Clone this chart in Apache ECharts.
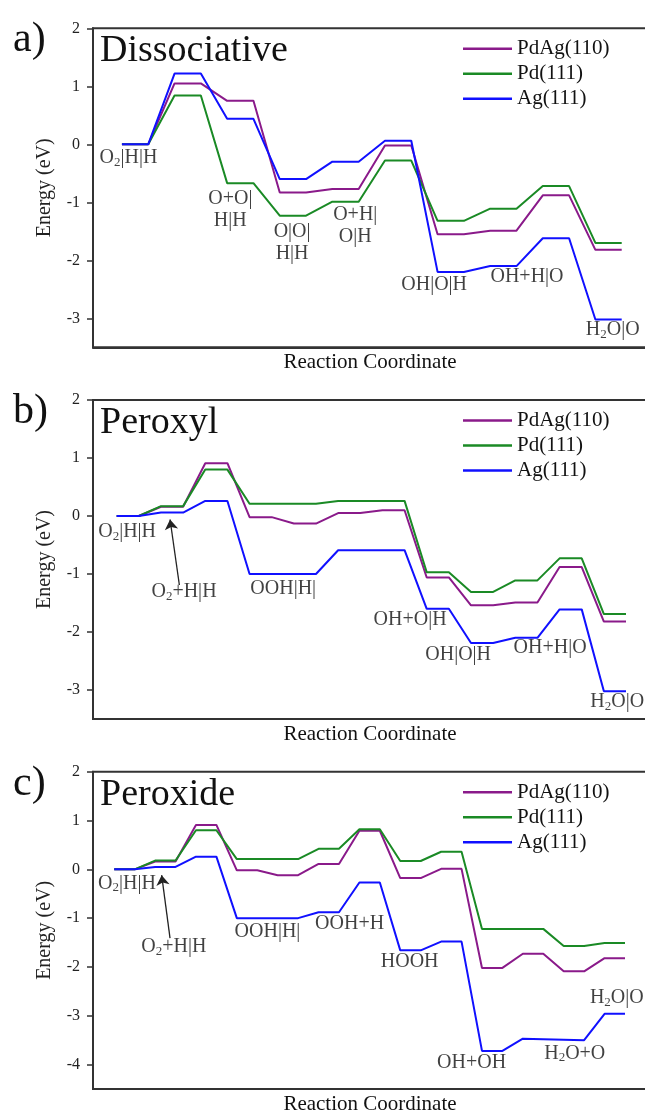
<!DOCTYPE html>
<html>
<head>
<meta charset="utf-8">
<script src="https://cdn.jsdelivr.net/npm/echarts@6/dist/echarts.min.js"></script>
<style>
  html, body { margin: 0; padding: 0; background: #fff; }
  #main { width: 645px; height: 1110px; }
</style>
</head>
<body>
<div id="main"></div>
<script>
// series names
var names = ['PdAg(110)', 'Pd(111)', 'Ag(111)'];
var colors = ['#8a1a8a', '#1a8a25', '#1010ff'];

// a) Dissociative : 10 states, 2 points each
var purpleA = [0, 0, 1.05, 1.05, 0.75, 0.75, -0.83, -0.83, -0.77, -0.77, -0.02, -0.02, -1.55, -1.55, -1.49, -1.49, -0.88, -0.88, -1.82, -1.82];
var greenA  = [0, 0, 0.84, 0.84, -0.67, -0.67, -1.23, -1.23, -0.99, -0.99, -0.28, -0.28, -1.32, -1.32, -1.11, -1.11, -0.72, -0.72, -1.70, -1.70];
var blueA   = [0, 0, 1.22, 1.22, 0.44, 0.44, -0.60, -0.60, -0.30, -0.30, 0.06, 0.06, -2.20, -2.20, -2.10, -2.10, -1.62, -1.62, -3.02, -3.02];

// b) Peroxyl : 12 states
var purpleB = [0, 0, 0.16, 0.16, 0.91, 0.91, -0.02, -0.02, -0.13, -0.13, 0.05, 0.05, 0.10, 0.10, -1.06, -1.06, -1.54, -1.54, -1.49, -1.49, -0.88, -0.88, -1.82, -1.82];
var greenB  = [0, 0, 0.17, 0.17, 0.80, 0.80, 0.21, 0.21, 0.21, 0.21, 0.26, 0.26, 0.26, 0.26, -0.97, -0.97, -1.31, -1.31, -1.11, -1.11, -0.73, -0.73, -1.69, -1.69];
var blueB   = [0, 0, 0.06, 0.06, 0.26, 0.26, -1.00, -1.00, -1.00, -1.00, -0.59, -0.59, -0.59, -0.59, -1.60, -1.60, -2.19, -2.19, -2.10, -2.10, -1.61, -1.61, -3.02, -3.02];

// c) Peroxide : 13 states
var purpleC = [0, 0, 0.16, 0.16, 0.91, 0.91, -0.02, -0.02, -0.12, -0.12, 0.11, 0.11, 0.79, 0.79, -0.18, -0.18, 0.01, 0.01, -2.02, -2.02, -1.73, -1.73, -2.09, -2.09, -1.82, -1.82];
var greenC  = [0, 0, 0.18, 0.18, 0.80, 0.80, 0.21, 0.21, 0.21, 0.21, 0.42, 0.42, 0.82, 0.82, 0.17, 0.17, 0.36, 0.36, -1.22, -1.22, -1.22, -1.22, -1.57, -1.57, -1.51, -1.51];
var blueC   = [0, 0, 0.05, 0.05, 0.26, 0.26, -1.00, -1.00, -1.00, -1.00, -0.88, -0.88, -0.27, -0.27, -1.66, -1.66, -1.48, -1.48, -3.72, -3.72, -3.47, -3.48, -3.49, -3.50, -2.96, -2.96];

// state labels [x, y, text]  ("_2" = subscript 2)
var labelsA = [[0.25, -0.24, 'O_2|H|H'], [4.12, -1.13, 'O+O|\nH|H'], [6.47, -1.69, 'O|O|\nH|H'], [8.87, -1.40, 'O+H|\nO|H'],
               [11.87, -2.43, 'OH|O|H'], [15.4, -2.28, 'OH+H|O'], [18.66, -3.2, 'H_2O|O']];
var labelsB = [[0.47, -0.27, 'O_2|H|H'], [3.04, -1.31, 'O_2+H|H'], [7.52, -1.25, 'OOH|H|'], [13.25, -1.79, 'OH+O|H'],
               [15.42, -2.40, 'OH|O|H'], [19.57, -2.28, 'OH+H|O'], [22.6, -3.2, 'H_2O|O']];
var labelsC = [[0.62, -0.29, 'O_2|H|H'], [2.92, -1.59, 'O_2+H|H'], [7.5, -1.28, 'OOH|H|'], [11.52, -1.11, 'OOH+H'],
               [14.46, -1.89, 'HOOH'], [17.49, -3.96, 'OH+OH'], [22.54, -3.77, 'H_2O+O'], [24.6, -2.64, 'H_2O|O']];

// arrows [from, to]
var arrowB = [[2.83, -1.19], [2.41, -0.06]];
var arrowC = [[2.73, -1.41], [2.32, -0.12]];

// axis ticks
var ticksAB = [2, 1, 0, -1, -2, -3];
var ticksC = [2, 1, 0, -1, -2, -3, -4];

var font = 'Liberation Serif';
var myChart = echarts.init(document.getElementById('main'));

var panels = [
	{ letter: 'a)', title: 'Dissociative', top: 28.3, height: 319, ymin: -3.5, xmin: -1.1, xmax: 20.57, ticks: ticksAB,
	  lines: [purpleA, greenA, blueA], labels: labelsA, arrow: null },
	{ letter: 'b)', title: 'Peroxyl', top: 400, height: 319, ymin: -3.5, xmin: -1.07, xmax: 24.67, ticks: ticksAB,
	  lines: [purpleB, greenB, blueB], labels: labelsB, arrow: arrowB },
	{ letter: 'c)', title: 'Peroxide', top: 771.7, height: 317.3, ymin: -4.5, xmin: -1.04, xmax: 26.86, ticks: ticksC,
	  lines: [purpleC, greenC, blueC], labels: labelsC, arrow: arrowC }
];

function toPoints(arr) {
	var out = [];
	for (var i = 0; i < arr.length; i++) {
		out.push([i, arr[i]]);
	}
	return out;
}

var grids = [], xAxes = [], yAxes = [], series = [], titles = [], legends = [];

for (var p = 0; p < panels.length; p++) {
	var P = panels[p];
	// right border sits just outside the canvas, like the cropped original
	grids.push({ left: 93, top: P.top, width: 570, height: P.height, outerBoundsMode: 'none', containLabel: false,
		show: true, borderColor: '#333', borderWidth: 2, backgroundColor: 'transparent' });
	xAxes.push({
		gridIndex: p, type: 'value', min: P.xmin, max: P.xmax,
		axisLine: { show: true, onZero: false, lineStyle: { color: '#333', width: 2 } },
		axisTick: { show: false }, axisLabel: { show: false }, splitLine: { show: false },
		name: 'Reaction Coordinate', nameLocation: 'middle', nameGap: 5,
		nameTextStyle: { fontFamily: font, fontSize: 21, color: '#111', padding: [0, 16, 0, 0] }
	});
	yAxes.push({
		gridIndex: p, type: 'value', min: P.ymin, max: 2,
		axisLine: { show: true, onZero: false, lineStyle: { color: '#333', width: 2 } },
		axisTick: { show: true, length: 6, customValues: P.ticks, lineStyle: { color: '#333', width: 1.5 } },
		axisLabel: { customValues: P.ticks, fontFamily: font, fontSize: 16, color: '#222', margin: 13 },
		splitLine: { show: false },
		name: 'Energy (eV)', nameLocation: 'middle', nameGap: 38, nameRotate: 90,
		nameTextStyle: { fontFamily: font, fontSize: 20, color: '#222' }
	});
	titles.push({ text: P.letter, left: 8, top: P.top - 14, textStyle: { fontFamily: font, fontSize: 42, fontWeight: 'normal', color: '#111' } });
	titles.push({ text: P.title, left: 95, top: P.top - 1, textStyle: { fontFamily: font, fontSize: 38, fontWeight: 'normal', color: '#111' } });
	legends.push({
		data: names, orient: 'vertical', left: 458, top: P.top + 5, icon: 'rect', itemWidth: 49, itemHeight: 2.5, itemGap: 4,
		textStyle: { fontFamily: font, fontSize: 21, color: '#111', lineHeight: 20 }
	});
	for (var s = 0; s < 3; s++) {
		series.push({
			name: names[s], type: 'line', xAxisIndex: p, yAxisIndex: p, symbol: 'none',
			lineStyle: { color: colors[s], width: 2 }, itemStyle: { color: colors[s] },
			data: toPoints(P.lines[s]), z: 2 + s
		});
	}
	var lab = {
		name: 'labels' + p, type: 'scatter', xAxisIndex: p, yAxisIndex: p, symbolSize: 0, silent: true, z: 10,
		data: P.labels,
		label: {
			show: true, position: 'inside', fontFamily: font, fontSize: 20, color: '#111', lineHeight: 22,
			textBorderWidth: 0,
			formatter: function (params) { return params.data[2].replace(/_2/g, '{s|2}'); },
			rich: { s: { fontFamily: font, fontSize: 13, color: '#111', lineHeight: 8, verticalAlign: 'bottom', textBorderWidth: 0 } }
		}
	};
	if (P.arrow) {
		lab.markLine = {
			silent: true, symbol: ['none', 'arrow'], symbolSize: 10, animation: false,
			lineStyle: { color: '#222', width: 1.3, type: 'solid' }, label: { show: false },
			data: [[{ coord: P.arrow[0] }, { coord: P.arrow[1] }]]
		};
	}
	series.push(lab);
}

var option = {
	backgroundColor: '#fff',
	animation: false,
	title: titles,
	legend: legends,
	grid: grids,
	xAxis: xAxes,
	yAxis: yAxes,
	series: series
};
myChart.setOption(option);
</script>
</body>
</html>
